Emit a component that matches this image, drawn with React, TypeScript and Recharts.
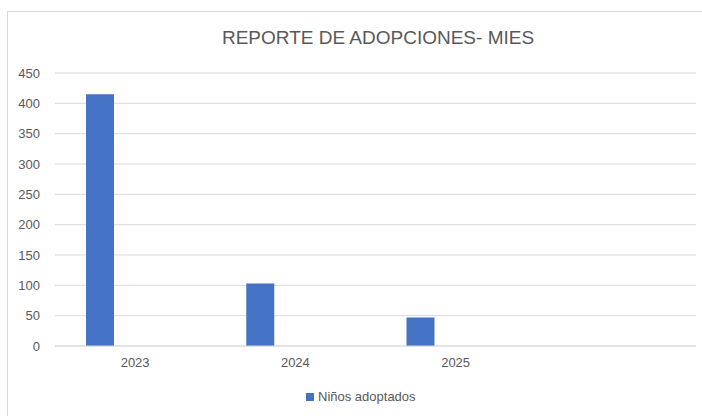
import { Bar, BarChart, CartesianGrid, XAxis, YAxis } from "recharts";

// Excel-style clustered column chart; the sheet had 3 series slots, only the first filled.
const years = ["2023", "2024", "2025", ""];
const adoptados = [415, 103, 47, null];
const yTicks = [0, 50, 100, 150, 200, 250, 300, 350, 400, 450];
const seriesName = "Niños adoptados";

const data = years.map((y, i) => ({ year: y, adoptados: adoptados[i], s2: null, s3: null }));

const FONT = "'Liberation Sans', Arial, sans-serif";
const GREY = "#595959";
const BLUE = "#4472C4";

export default function App() {
  return (
    <div style={{ position: "absolute", left: 0, top: 0, width: 702, height: 416, background: "#fff", overflow: "hidden" }}>
      <div
        style={{
          position: "absolute",
          left: 7,
          top: 11,
          width: 720,
          height: 420,
          borderLeft: "1px solid #d9d9d9",
          borderTop: "1px solid #d9d9d9",
        }}
      />
      <div
        style={{
          position: "absolute",
          left: 0,
          width: 702,
          top: 27,
          textAlign: "center",
          paddingLeft: 54,
          boxSizing: "border-box",
          fontFamily: FONT,
          fontSize: 19,
          color: GREY,
          whiteSpace: "nowrap",
        }}
      >
        REPORTE DE ADOPCIONES- MIES
      </div>
      <BarChart
        width={702}
        height={416}
        data={data}
        margin={{ top: 73, right: 6, left: 10, bottom: 40 }}
        barGap={7.6}
        style={{ position: "absolute", left: 0, top: 0 }}
      >
        <CartesianGrid vertical={false} stroke="#d9d9d9" />
        <XAxis
          dataKey="year"
          axisLine={{ stroke: "#d9d9d9" }}
          tickLine={false}
          tickMargin={6}
          height={30}
          tick={{ fontSize: 13, fill: GREY, fontFamily: FONT }}
        />
        <YAxis
          domain={[0, 450]}
          ticks={yTicks}
          axisLine={false}
          tickLine={false}
          width={45}
          tickMargin={9}
          tick={{ fontSize: 13, fill: GREY, fontFamily: FONT }}
        />
        <Bar dataKey="adoptados" name={seriesName} fill={BLUE} barSize={28} isAnimationActive={false} />
        <Bar dataKey="s2" fill="#ED7D31" barSize={28} isAnimationActive={false} />
        <Bar dataKey="s3" fill="#A5A5A5" barSize={28} isAnimationActive={false} />
      </BarChart>
      <div
        style={{
          position: "absolute",
          left: 306,
          top: 389,
          display: "flex",
          alignItems: "center",
          fontFamily: FONT,
          fontSize: 13,
          color: GREY,
          whiteSpace: "nowrap",
        }}
      >
        <span style={{ display: "inline-block", width: 8, height: 8, background: BLUE, marginRight: 4 }} />
        {seriesName}
      </div>
    </div>
  );
}
